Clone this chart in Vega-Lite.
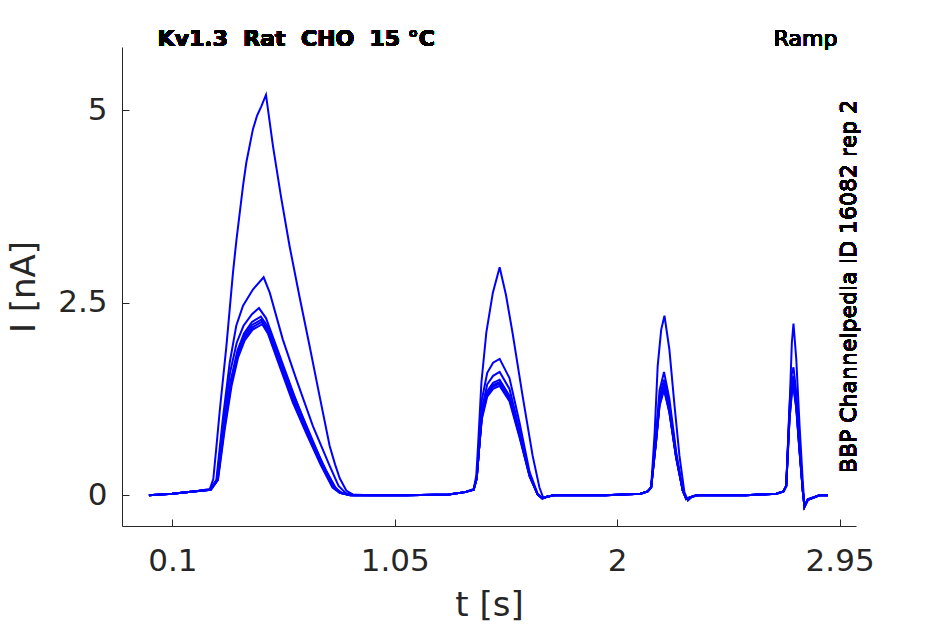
{
  "$schema": "https://vega.github.io/schema/vega-lite/v6.json",
  "width": 734,
  "height": 479,
  "autosize": {"type": "none"},
  "padding": {"left": 122, "top": 47, "right": 89, "bottom": 98},
  "config": {
    "view": {"stroke": null},
    "font": "DejaVu Sans",
    "axis": {
      "grid": false,
      "domainColor": "#262626",
      "domainWidth": 1,
      "tickColor": "#262626",
      "tickWidth": 1,
      "tickSize": -7,
      "labelColor": "#262626",
      "labelFont": "DejaVu Sans",
      "labelFontSize": 31,
      "titleColor": "#262626",
      "titleFont": "DejaVu Sans",
      "titleFontSize": 34,
      "titleFontWeight": "normal",
      "labelFlush": false,
      "labelOverlap": false
    }
  },
  "data": {"values": [
    {"k":"A","t":0,"i":0},{"k":"A","t":0.1,"i":0.02},{"k":"A","t":0.2,"i":0.05},{"k":"A","t":0.26,"i":0.08},{"k":"A","t":0.275,"i":0.21},{"k":"A","t":0.288,"i":0.62},{"k":"A","t":0.302,"i":1.08},{"k":"A","t":0.331,"i":1.94},{"k":"A","t":0.359,"i":2.89},{"k":"A","t":0.374,"i":3.32},{"k":"A","t":0.388,"i":3.67},{"k":"A","t":0.402,"i":4.02},{"k":"A","t":0.416,"i":4.32},{"k":"A","t":0.444,"i":4.75},{"k":"A","t":0.462,"i":4.93},{"k":"A","t":0.48,"i":5.05},{"k":"A","t":0.5,"i":5.2},{"k":"A","t":0.53,"i":4.53},{"k":"A","t":0.565,"i":3.86},{"k":"A","t":0.601,"i":3.23},{"k":"A","t":0.643,"i":2.58},{"k":"A","t":0.686,"i":1.94},{"k":"A","t":0.73,"i":1.27},{"k":"A","t":0.772,"i":0.64},{"k":"A","t":0.795,"i":0.4},{"k":"A","t":0.815,"i":0.22},{"k":"A","t":0.843,"i":0.06},{"k":"A","t":0.87,"i":0.01},{"k":"A","t":0.94,"i":0},
    {"k":"A","t":1.1,"i":0},{"k":"A","t":1.28,"i":0.01},{"k":"A","t":1.35,"i":0.04},
    {"k":"A","t":1.387,"i":0.08},{"k":"A","t":1.398,"i":0.25},{"k":"A","t":1.405,"i":0.6},{"k":"A","t":1.42,"i":1.46},{"k":"A","t":1.441,"i":2.11},{"k":"A","t":1.469,"i":2.63},{"k":"A","t":1.498,"i":2.96},{"k":"A","t":1.525,"i":2.6},{"k":"A","t":1.553,"i":2.11},{"k":"A","t":1.596,"i":1.29},{"k":"A","t":1.639,"i":0.51},{"k":"A","t":1.668,"i":0.1},{"k":"A","t":1.685,"i":-0.04},{"k":"A","t":1.7,"i":-0.02},{"k":"A","t":1.73,"i":0},
    {"k":"A","t":1.95,"i":0},{"k":"A","t":2.1,"i":0.02},{"k":"A","t":2.13,"i":0.05},
    {"k":"A","t":2.145,"i":0.1},{"k":"A","t":2.16,"i":0.81},{"k":"A","t":2.173,"i":1.68},{"k":"A","t":2.188,"i":2.15},{"k":"A","t":2.202,"i":2.33},{"k":"A","t":2.223,"i":1.89},{"k":"A","t":2.245,"i":1.16},{"k":"A","t":2.266,"i":0.51},{"k":"A","t":2.287,"i":0.04},{"k":"A","t":2.302,"i":-0.07},{"k":"A","t":2.323,"i":-0.01},{"k":"A","t":2.35,"i":0},
    {"k":"A","t":2.55,"i":0},{"k":"A","t":2.68,"i":0.02},{"k":"A","t":2.71,"i":0.05},
    {"k":"A","t":2.722,"i":0.12},{"k":"A","t":2.736,"i":1.12},{"k":"A","t":2.746,"i":1.98},{"k":"A","t":2.753,"i":2.23},{"k":"A","t":2.765,"i":1.76},{"k":"A","t":2.779,"i":0.9},{"k":"A","t":2.793,"i":0.16},{"k":"A","t":2.8,"i":-0.14},{"k":"A","t":2.814,"i":-0.05},{"k":"A","t":2.864,"i":0},{"k":"A","t":2.9,"i":0},

    {"k":"B","t":0,"i":0},{"k":"B","t":0.1,"i":0.02},{"k":"B","t":0.2,"i":0.05},{"k":"B","t":0.26,"i":0.07},{"k":"B","t":0.288,"i":0.2},{"k":"B","t":0.316,"i":1.0},{"k":"B","t":0.345,"i":1.72},{"k":"B","t":0.373,"i":2.2},{"k":"B","t":0.402,"i":2.46},{"k":"B","t":0.444,"i":2.67},{"k":"B","t":0.49,"i":2.83},{"k":"B","t":0.516,"i":2.63},{"k":"B","t":0.572,"i":2.02},{"k":"B","t":0.63,"i":1.5},{"k":"B","t":0.7,"i":0.9},{"k":"B","t":0.772,"i":0.38},{"k":"B","t":0.81,"i":0.12},{"k":"B","t":0.84,"i":0.03},{"k":"B","t":0.88,"i":0},
    {"k":"B","t":1.1,"i":0},{"k":"B","t":1.28,"i":0.01},{"k":"B","t":1.35,"i":0.04},
    {"k":"B","t":1.387,"i":0.07},{"k":"B","t":1.4,"i":0.22},{"k":"B","t":1.41,"i":0.6},{"k":"B","t":1.422,"i":1.24},{"k":"B","t":1.445,"i":1.59},{"k":"B","t":1.47,"i":1.72},{"k":"B","t":1.498,"i":1.77},{"k":"B","t":1.54,"i":1.52},{"k":"B","t":1.583,"i":0.94},{"k":"B","t":1.626,"i":0.3},{"k":"B","t":1.66,"i":0.02},{"k":"B","t":1.68,"i":-0.04},{"k":"B","t":1.7,"i":-0.02},{"k":"B","t":1.73,"i":0},
    {"k":"B","t":1.95,"i":0},{"k":"B","t":2.1,"i":0.02},{"k":"B","t":2.13,"i":0.05},
    {"k":"B","t":2.145,"i":0.1},{"k":"B","t":2.166,"i":0.8},{"k":"B","t":2.181,"i":1.36},{"k":"B","t":2.2,"i":1.6},{"k":"B","t":2.223,"i":1.25},{"k":"B","t":2.252,"i":0.56},{"k":"B","t":2.28,"i":0.06},{"k":"B","t":2.295,"i":-0.05},{"k":"B","t":2.31,"i":-0.03},{"k":"B","t":2.34,"i":0},
    {"k":"B","t":2.55,"i":0},{"k":"B","t":2.68,"i":0.02},{"k":"B","t":2.71,"i":0.05},
    {"k":"B","t":2.722,"i":0.12},{"k":"B","t":2.736,"i":1.16},{"k":"B","t":2.746,"i":1.58},{"k":"B","t":2.753,"i":1.66},{"k":"B","t":2.765,"i":1.33},{"k":"B","t":2.779,"i":0.66},{"k":"B","t":2.793,"i":0.05},{"k":"B","t":2.8,"i":-0.15},{"k":"B","t":2.814,"i":-0.06},{"k":"B","t":2.864,"i":0},{"k":"B","t":2.9,"i":0},

    {"k":"C","t":0,"i":0},{"k":"C","t":0.1,"i":0.02},{"k":"C","t":0.2,"i":0.05},{"k":"C","t":0.26,"i":0.07},{"k":"C","t":0.29,"i":0.2},{"k":"C","t":0.318,"i":0.95},{"k":"C","t":0.347,"i":1.6},{"k":"C","t":0.375,"i":1.98},{"k":"C","t":0.404,"i":2.2},{"k":"C","t":0.44,"i":2.35},{"k":"C","t":0.47,"i":2.43},{"k":"C","t":0.5,"i":2.3},{"k":"C","t":0.56,"i":1.8},{"k":"C","t":0.62,"i":1.3},{"k":"C","t":0.69,"i":0.75},{"k":"C","t":0.76,"i":0.3},{"k":"C","t":0.8,"i":0.08},{"k":"C","t":0.83,"i":0.02},{"k":"C","t":0.87,"i":0},
    {"k":"C","t":1.1,"i":0},{"k":"C","t":1.28,"i":0.01},{"k":"C","t":1.35,"i":0.04},
    {"k":"C","t":1.387,"i":0.07},{"k":"C","t":1.4,"i":0.22},{"k":"C","t":1.41,"i":0.6},{"k":"C","t":1.422,"i":1.12},{"k":"C","t":1.445,"i":1.44},{"k":"C","t":1.47,"i":1.55},{"k":"C","t":1.498,"i":1.6},{"k":"C","t":1.54,"i":1.38},{"k":"C","t":1.583,"i":0.85},{"k":"C","t":1.626,"i":0.27},{"k":"C","t":1.66,"i":0.01},{"k":"C","t":1.68,"i":-0.04},{"k":"C","t":1.7,"i":-0.02},{"k":"C","t":1.73,"i":0},
    {"k":"C","t":1.95,"i":0},{"k":"C","t":2.1,"i":0.02},{"k":"C","t":2.13,"i":0.05},
    {"k":"C","t":2.145,"i":0.1},{"k":"C","t":2.166,"i":0.75},{"k":"C","t":2.181,"i":1.28},{"k":"C","t":2.2,"i":1.5},{"k":"C","t":2.223,"i":1.17},{"k":"C","t":2.252,"i":0.53},{"k":"C","t":2.28,"i":0.06},{"k":"C","t":2.295,"i":-0.05},{"k":"C","t":2.31,"i":-0.03},{"k":"C","t":2.34,"i":0},
    {"k":"C","t":2.55,"i":0},{"k":"C","t":2.68,"i":0.02},{"k":"C","t":2.71,"i":0.05},
    {"k":"C","t":2.722,"i":0.12},{"k":"C","t":2.736,"i":1.09},{"k":"C","t":2.746,"i":1.47},{"k":"C","t":2.753,"i":1.55},{"k":"C","t":2.765,"i":1.24},{"k":"C","t":2.779,"i":0.62},{"k":"C","t":2.793,"i":0.05},{"k":"C","t":2.8,"i":-0.15},{"k":"C","t":2.814,"i":-0.06},{"k":"C","t":2.864,"i":0},{"k":"C","t":2.9,"i":0},

    {"k":"D","t":0,"i":0},{"k":"D","t":0.1,"i":0.02},{"k":"D","t":0.2,"i":0.05},{"k":"D","t":0.262,"i":0.07},{"k":"D","t":0.292,"i":0.2},{"k":"D","t":0.32,"i":0.9},{"k":"D","t":0.35,"i":1.5},{"k":"D","t":0.378,"i":1.88},{"k":"D","t":0.406,"i":2.1},{"k":"D","t":0.44,"i":2.25},{"k":"D","t":0.478,"i":2.32},{"k":"D","t":0.505,"i":2.2},{"k":"D","t":0.56,"i":1.75},{"k":"D","t":0.62,"i":1.28},{"k":"D","t":0.68,"i":0.85},{"k":"D","t":0.74,"i":0.42},{"k":"D","t":0.79,"i":0.12},{"k":"D","t":0.82,"i":0.03},{"k":"D","t":0.86,"i":0},
    {"k":"D","t":1.1,"i":0},{"k":"D","t":1.28,"i":0.01},{"k":"D","t":1.35,"i":0.04},
    {"k":"D","t":1.387,"i":0.07},{"k":"D","t":1.4,"i":0.22},{"k":"D","t":1.41,"i":0.6},{"k":"D","t":1.422,"i":1.05},{"k":"D","t":1.445,"i":1.35},{"k":"D","t":1.47,"i":1.46},{"k":"D","t":1.498,"i":1.5},{"k":"D","t":1.54,"i":1.29},{"k":"D","t":1.583,"i":0.8},{"k":"D","t":1.626,"i":0.26},{"k":"D","t":1.66,"i":0.01},{"k":"D","t":1.68,"i":-0.04},{"k":"D","t":1.7,"i":-0.02},{"k":"D","t":1.73,"i":0},
    {"k":"D","t":1.95,"i":0},{"k":"D","t":2.1,"i":0.02},{"k":"D","t":2.13,"i":0.05},
    {"k":"D","t":2.145,"i":0.1},{"k":"D","t":2.166,"i":0.72},{"k":"D","t":2.181,"i":1.22},{"k":"D","t":2.2,"i":1.44},{"k":"D","t":2.223,"i":1.12},{"k":"D","t":2.252,"i":0.5},{"k":"D","t":2.28,"i":0.06},{"k":"D","t":2.295,"i":-0.05},{"k":"D","t":2.31,"i":-0.03},{"k":"D","t":2.34,"i":0},
    {"k":"D","t":2.55,"i":0},{"k":"D","t":2.68,"i":0.02},{"k":"D","t":2.71,"i":0.05},
    {"k":"D","t":2.722,"i":0.12},{"k":"D","t":2.736,"i":1.04},{"k":"D","t":2.746,"i":1.41},{"k":"D","t":2.753,"i":1.48},{"k":"D","t":2.765,"i":1.18},{"k":"D","t":2.779,"i":0.59},{"k":"D","t":2.793,"i":0.05},{"k":"D","t":2.8,"i":-0.15},{"k":"D","t":2.814,"i":-0.06},{"k":"D","t":2.864,"i":0},{"k":"D","t":2.9,"i":0},

    {"k":"E","t":0,"i":0},{"k":"E","t":0.1,"i":0.02},{"k":"E","t":0.2,"i":0.05},{"k":"E","t":0.263,"i":0.07},{"k":"E","t":0.293,"i":0.2},{"k":"E","t":0.321,"i":0.88},{"k":"E","t":0.351,"i":1.47},{"k":"E","t":0.379,"i":1.85},{"k":"E","t":0.407,"i":2.07},{"k":"E","t":0.44,"i":2.21},{"k":"E","t":0.48,"i":2.28},{"k":"E","t":0.506,"i":2.16},{"k":"E","t":0.56,"i":1.72},{"k":"E","t":0.618,"i":1.26},{"k":"E","t":0.678,"i":0.83},{"k":"E","t":0.738,"i":0.41},{"k":"E","t":0.788,"i":0.11},{"k":"E","t":0.818,"i":0.03},{"k":"E","t":0.86,"i":0},
    {"k":"E","t":1.1,"i":0},{"k":"E","t":1.28,"i":0.01},{"k":"E","t":1.35,"i":0.04},
    {"k":"E","t":1.387,"i":0.07},{"k":"E","t":1.4,"i":0.22},{"k":"E","t":1.41,"i":0.6},{"k":"E","t":1.422,"i":1.03},{"k":"E","t":1.445,"i":1.32},{"k":"E","t":1.47,"i":1.43},{"k":"E","t":1.498,"i":1.47},{"k":"E","t":1.54,"i":1.26},{"k":"E","t":1.583,"i":0.78},{"k":"E","t":1.626,"i":0.25},{"k":"E","t":1.66,"i":0.01},{"k":"E","t":1.68,"i":-0.04},{"k":"E","t":1.7,"i":-0.02},{"k":"E","t":1.73,"i":0},
    {"k":"E","t":1.95,"i":0},{"k":"E","t":2.1,"i":0.02},{"k":"E","t":2.13,"i":0.05},
    {"k":"E","t":2.145,"i":0.1},{"k":"E","t":2.166,"i":0.7},{"k":"E","t":2.181,"i":1.2},{"k":"E","t":2.2,"i":1.41},{"k":"E","t":2.223,"i":1.1},{"k":"E","t":2.252,"i":0.49},{"k":"E","t":2.28,"i":0.06},{"k":"E","t":2.295,"i":-0.05},{"k":"E","t":2.31,"i":-0.03},{"k":"E","t":2.34,"i":0},
    {"k":"E","t":2.55,"i":0},{"k":"E","t":2.68,"i":0.02},{"k":"E","t":2.71,"i":0.05},
    {"k":"E","t":2.722,"i":0.12},{"k":"E","t":2.736,"i":1.02},{"k":"E","t":2.746,"i":1.38},{"k":"E","t":2.753,"i":1.45},{"k":"E","t":2.765,"i":1.16},{"k":"E","t":2.779,"i":0.58},{"k":"E","t":2.793,"i":0.05},{"k":"E","t":2.8,"i":-0.15},{"k":"E","t":2.814,"i":-0.06},{"k":"E","t":2.864,"i":0},{"k":"E","t":2.9,"i":0},

    {"k":"F","t":0,"i":0},{"k":"F","t":0.1,"i":0.02},{"k":"F","t":0.2,"i":0.05},{"k":"F","t":0.264,"i":0.07},{"k":"F","t":0.294,"i":0.2},{"k":"F","t":0.322,"i":0.86},{"k":"F","t":0.352,"i":1.45},{"k":"F","t":0.38,"i":1.82},{"k":"F","t":0.408,"i":2.04},{"k":"F","t":0.442,"i":2.18},{"k":"F","t":0.482,"i":2.25},{"k":"F","t":0.507,"i":2.13},{"k":"F","t":0.56,"i":1.69},{"k":"F","t":0.616,"i":1.24},{"k":"F","t":0.676,"i":0.81},{"k":"F","t":0.736,"i":0.4},{"k":"F","t":0.786,"i":0.11},{"k":"F","t":0.816,"i":0.03},{"k":"F","t":0.86,"i":0},
    {"k":"F","t":1.1,"i":0},{"k":"F","t":1.28,"i":0.01},{"k":"F","t":1.35,"i":0.04},
    {"k":"F","t":1.387,"i":0.07},{"k":"F","t":1.4,"i":0.22},{"k":"F","t":1.41,"i":0.6},{"k":"F","t":1.422,"i":1.02},{"k":"F","t":1.445,"i":1.31},{"k":"F","t":1.47,"i":1.41},{"k":"F","t":1.498,"i":1.45},{"k":"F","t":1.54,"i":1.25},{"k":"F","t":1.583,"i":0.77},{"k":"F","t":1.626,"i":0.25},{"k":"F","t":1.66,"i":0.01},{"k":"F","t":1.68,"i":-0.04},{"k":"F","t":1.7,"i":-0.02},{"k":"F","t":1.73,"i":0},
    {"k":"F","t":1.95,"i":0},{"k":"F","t":2.1,"i":0.02},{"k":"F","t":2.13,"i":0.05},
    {"k":"F","t":2.145,"i":0.1},{"k":"F","t":2.166,"i":0.7},{"k":"F","t":2.181,"i":1.18},{"k":"F","t":2.2,"i":1.39},{"k":"F","t":2.223,"i":1.08},{"k":"F","t":2.252,"i":0.49},{"k":"F","t":2.28,"i":0.06},{"k":"F","t":2.295,"i":-0.05},{"k":"F","t":2.31,"i":-0.03},{"k":"F","t":2.34,"i":0},
    {"k":"F","t":2.55,"i":0},{"k":"F","t":2.68,"i":0.02},{"k":"F","t":2.71,"i":0.05},
    {"k":"F","t":2.722,"i":0.12},{"k":"F","t":2.736,"i":0.99},{"k":"F","t":2.746,"i":1.35},{"k":"F","t":2.753,"i":1.42},{"k":"F","t":2.765,"i":1.14},{"k":"F","t":2.779,"i":0.57},{"k":"F","t":2.793,"i":0.05},{"k":"F","t":2.8,"i":-0.15},{"k":"F","t":2.814,"i":-0.06},{"k":"F","t":2.864,"i":0},{"k":"F","t":2.9,"i":0},

    {"k":"G","t":0,"i":0},{"k":"G","t":0.1,"i":0.02},{"k":"G","t":0.2,"i":0.05},{"k":"G","t":0.265,"i":0.07},{"k":"G","t":0.295,"i":0.2},{"k":"G","t":0.323,"i":0.84},{"k":"G","t":0.353,"i":1.42},{"k":"G","t":0.381,"i":1.79},{"k":"G","t":0.409,"i":2.01},{"k":"G","t":0.443,"i":2.15},{"k":"G","t":0.484,"i":2.22},{"k":"G","t":0.508,"i":2.1},{"k":"G","t":0.56,"i":1.66},{"k":"G","t":0.614,"i":1.21},{"k":"G","t":0.674,"i":0.79},{"k":"G","t":0.734,"i":0.39},{"k":"G","t":0.784,"i":0.1},{"k":"G","t":0.814,"i":0.03},{"k":"G","t":0.86,"i":0},
    {"k":"G","t":1.1,"i":0},{"k":"G","t":1.28,"i":0.01},{"k":"G","t":1.35,"i":0.04},
    {"k":"G","t":1.387,"i":0.07},{"k":"G","t":1.4,"i":0.22},{"k":"G","t":1.41,"i":0.6},{"k":"G","t":1.422,"i":0.99},{"k":"G","t":1.445,"i":1.28},{"k":"G","t":1.47,"i":1.38},{"k":"G","t":1.498,"i":1.42},{"k":"G","t":1.54,"i":1.22},{"k":"G","t":1.583,"i":0.75},{"k":"G","t":1.626,"i":0.24},{"k":"G","t":1.66,"i":0.01},{"k":"G","t":1.68,"i":-0.04},{"k":"G","t":1.7,"i":-0.02},{"k":"G","t":1.73,"i":0},
    {"k":"G","t":1.95,"i":0},{"k":"G","t":2.1,"i":0.02},{"k":"G","t":2.13,"i":0.05},
    {"k":"G","t":2.145,"i":0.1},{"k":"G","t":2.166,"i":0.69},{"k":"G","t":2.181,"i":1.16},{"k":"G","t":2.2,"i":1.37},{"k":"G","t":2.223,"i":1.07},{"k":"G","t":2.252,"i":0.48},{"k":"G","t":2.28,"i":0.06},{"k":"G","t":2.295,"i":-0.05},{"k":"G","t":2.31,"i":-0.03},{"k":"G","t":2.34,"i":0},
    {"k":"G","t":2.55,"i":0},{"k":"G","t":2.68,"i":0.02},{"k":"G","t":2.71,"i":0.05},
    {"k":"G","t":2.722,"i":0.12},{"k":"G","t":2.736,"i":0.98},{"k":"G","t":2.746,"i":1.33},{"k":"G","t":2.753,"i":1.4},{"k":"G","t":2.765,"i":1.12},{"k":"G","t":2.779,"i":0.56},{"k":"G","t":2.793,"i":0.05},{"k":"G","t":2.8,"i":-0.15},{"k":"G","t":2.814,"i":-0.06},{"k":"G","t":2.864,"i":0},{"k":"G","t":2.9,"i":0}
  ]},
  "layer": [
    {
      "mark": {"type": "line", "color": "#0000ff", "strokeWidth": 2},
      "encoding": {
        "x": {
          "field": "t",
          "type": "quantitative",
          "title": "t [s]",
          "scale": {"domain": [-0.115, 3.02], "nice": false, "zero": false},
          "axis": {"values": [0.1, 1.05, 2, 2.95], "labelExpr": "'' + datum.value", "labelPadding": 27, "titlePadding": 12}
        },
        "y": {
          "field": "i",
          "type": "quantitative",
          "title": "I [nA]",
          "scale": {"domain": [-0.4, 5.82], "nice": false, "zero": false},
          "axis": {"values": [0, 2.5, 5], "labelExpr": "'' + datum.value", "labelPadding": 22, "titlePadding": 16}
        },
        "detail": {"field": "k"}
      }
    },
    {
      "mark": {"type": "text", "text": "Kv1.3 \u00a0Rat \u00a0CHO \u00a015 °C", "align": "left", "baseline": "alphabetic", "font": "DejaVu Sans", "fontWeight": "bold", "fontSize": 22, "color": "#000000", "dy": -1},
      "encoding": {"x": {"datum": 0.037}, "y": {"datum": 5.82}}
    },
    {
      "mark": {"type": "text", "text": "Ramp", "align": "right", "baseline": "alphabetic", "font": "DejaVu Sans", "fontSize": 22, "color": "#000000", "dy": -1},
      "encoding": {"x": {"datum": 2.941}, "y": {"datum": 5.82}}
    },
    {
      "mark": {"type": "text", "text": "BBP Channelpedia ID 16082 rep 2", "align": "center", "baseline": "alphabetic", "angle": 270, "font": "DejaVu Sans", "fontSize": 22, "color": "#000000"},
      "encoding": {"x": {"datum": 3.02}, "y": {"datum": 2.71}}
    }
  ]
}
